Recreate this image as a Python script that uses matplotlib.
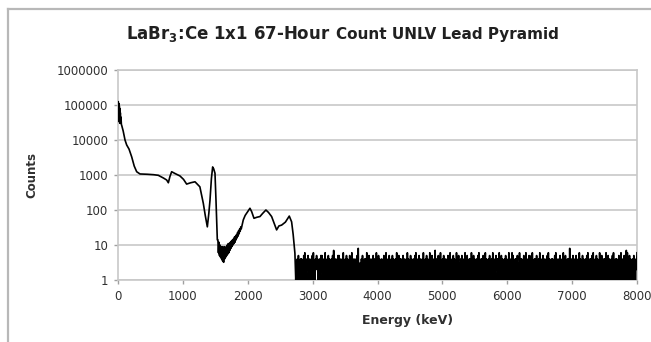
import numpy as np
import matplotlib
matplotlib.use("Agg")
from matplotlib import pyplot as plt
from matplotlib.lines import Line2D

# low-energy part of the spectrum: energy (keV) / counts
energy_lo = [0, 4, 8, 12, 16, 20, 24, 28, 32, 36, 40, 46, 52, 60, 80, 108, 134, 170,
             211, 250, 288, 339, 450, 550, 621, 700, 750, 776, 800, 827, 880, 955,
             1010, 1058, 1120, 1187, 1222, 1262, 1315, 1345, 1377, 1400, 1418, 1440,
             1459, 1475, 1495, 1510, 1531]
counts_lo = [45000, 125000, 40000, 110000, 35000, 95000, 32000, 80000, 30000, 60000,
             30000, 45000, 28000, 25000, 18000, 10000, 7200, 5500,
             3300, 1800, 1240, 1070, 1050, 1020, 980, 820, 720, 600, 900, 1240, 1100, 940,
             750, 550, 600, 640, 550, 460, 155, 70, 33, 80, 190, 800,
             1700, 1500, 1120, 200, 14]

# noisy valley after the 1461 keV line
energy_mid = [1540, 1548, 1556, 1564, 1572, 1580, 1588, 1596, 1604, 1612, 1620, 1628,
              1636, 1644, 1652, 1660, 1668, 1676, 1684, 1692, 1700, 1708, 1716, 1724,
              1732, 1740, 1748, 1756, 1764, 1772, 1780, 1788, 1796, 1804, 1812, 1820,
              1828, 1836, 1844, 1852, 1860, 1868, 1876, 1884, 1892, 1900]
counts_mid = [14, 6, 12, 5, 10, 4.5, 9, 4, 9, 3.5, 8, 3.2,
              9, 4, 8, 4.5, 9, 5, 10, 5.5, 11, 6, 11, 7,
              12, 8, 13, 9, 14, 10, 15, 11, 17, 12, 18, 14,
              20, 16, 23, 18, 26, 21, 29, 25, 33, 29]

# thorium / uranium continuum up to the 2614 keV edge
energy_hi = [1931, 1960, 1990, 2034, 2060, 2096, 2140, 2188, 2230, 2280, 2320, 2368,
             2400, 2445, 2480, 2522, 2580, 2640, 2676, 2700, 2727]
counts_hi = [52, 70, 85, 112, 90, 58, 62, 65, 80, 100, 85, 65,
             45, 27, 35, 37, 45, 67, 46, 20, 5.8]

# background channels from 2740 to 8000 keV
noise_rows = [
    "1324151314241315261314251413241516131425",
    "2413141525131416132415141324151713141325",
    "1514132416131425141315241613241314251813",
    "2314151324141613251413241514132614152413",
    "1413251416132415131425141324161315241413",
    "2514131416241315141324151613142514132416",
    "1314251413261415132417141325141613241513",
    "2413151426131415241316142513141524131614",
    "1513241416132514131425161324141513261413",
    "2415131426141315241416132514132415141316",
    "1314261513241415131624141325141613142514",
    "2516131424151314261413251413241516141324",
    "1413251614132415131426141513241418132415",
    "2314151324161413251413241516132414152613",
    "1425141316241513241416132514131425161314",
    "2413151426141315241716132514132415141326",
]
noise = [int(c) for row in noise_rows for c in row]
noise_energy = np.linspace(2740, 8000, len(noise))

yticks = [1, 10, 100, 1000, 10000, 100000, 1000000]
xticks = [0, 1000, 2000, 3000, 4000, 5000, 6000, 7000, 8000]

plt.rcParams['font.family'] = ['DejaVu Sans']
plt.rcParams['mathtext.fontset'] = 'dejavusans'

fig = plt.figure(figsize=(6.51, 3.42), dpi=100)
ax = fig.add_axes([118 / 651, 1 - 280 / 342, (637 - 118) / 651, (280 - 70) / 342])

x_all = energy_lo + energy_mid + energy_hi + list(noise_energy)
y_all = counts_lo + counts_mid + counts_hi + noise
ax.plot(x_all, y_all, color='black', lw=1.2, zorder=3)

ax.set_yscale('log')
ax.set_ylim(1, 1000000)
ax.set_xlim(0, 8000)
ax.set_yticks(yticks)
ax.set_yticklabels([str(v) for v in yticks])
ax.minorticks_off()
ax.set_xticks(xticks)
ax.set_xticklabels([str(v) for v in xticks])
ax.tick_params(axis='both', labelsize=8.5, colors='#a0a0a0', labelcolor='#303030',
               length=3, width=1, pad=4)
ax.grid(axis='y', color='#d0d0d0', lw=1.4)
ax.set_axisbelow(True)
for s in ax.spines.values():
    s.set_color('#c8c8c8')
    s.set_linewidth(1.2)

ax.set_xlabel('Energy (keV)', fontsize=9, fontweight='bold', color='#303030')
ax.xaxis.set_label_coords((408 - 118) / (637 - 118), -0.16)
ax.set_ylabel('Counts', fontsize=8.5, fontweight='bold', color='#303030')
ax.yaxis.set_label_coords((38 - 118) / (637 - 118), 0.5)

# title in two sizes
fig.text(330 / 651, 1 - 39 / 342, r'LaBr$_\mathbf{3}$:Ce 1x1 67-Hour', ha='right',
         va='baseline', fontsize=12, fontweight='bold', color='#202020')
fig.text(336 / 651, 1 - 39 / 342, 'Count UNLV Lead Pyramid', ha='left',
         va='baseline', fontsize=11, fontweight='bold', color='#202020')

# chart frame
fig.add_artist(Line2D([8 / 651, 8 / 651], [0, 1 - 9 / 342], color='#b8b8b8', lw=1.6,
                      transform=fig.transFigure))
fig.add_artist(Line2D([8 / 651, 1], [1 - 9 / 342, 1 - 9 / 342], color='#b8b8b8', lw=1.6,
                      transform=fig.transFigure))

fig.savefig('out.png', dpi=100)
